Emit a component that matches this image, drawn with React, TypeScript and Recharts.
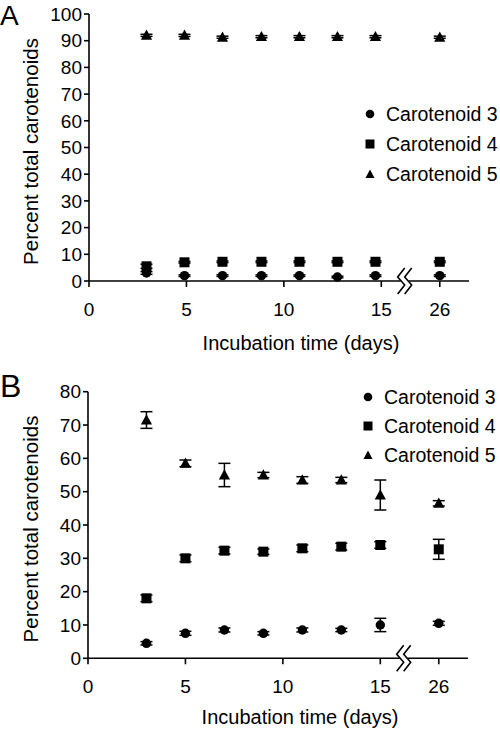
import React from "react";
import {
  ErrorBar,
  Label,
  Legend,
  ReferenceDot,
  Scatter,
  ScatterChart,
  XAxis,
  YAxis,
} from "recharts";

// sampling days; day 26 sits just past the axis break
const days = [3, 5, 7, 9, 11, 13, 15, 26];
const xPosA = [2.95, 4.9, 6.85, 8.85, 10.8, 12.75, 14.7, 18];
const xPosB = [3, 5, 7, 9, 11, 13, 15, 18];
const xTicks = [0, 5, 10, 15, 18];
const xTickLabels = ["0", "5", "10", "15", "26"];
const yTicksA = [0, 10, 20, 30, 40, 50, 60, 70, 80, 90, 100];
const yTicksB = [0, 10, 20, 30, 40, 50, 60, 70, 80];

// panel A
const c3A = [3, 2, 2, 2, 2, 1.5, 2, 2];
const c4A = [5.5, 7, 7.2, 7.2, 7.2, 7.2, 7.2, 7.2];
const c5A = [92, 92, 91.3, 91.5, 91.5, 91.5, 91.5, 91.3];
const c3ErrA = [0.5, 0.3, 0.3, 0.3, 0.3, 0.3, 0.3, 0.3];
const c4ErrA = [0.8, 0.3, 0.3, 0.3, 0.3, 0.3, 0.3, 0.3];
const c5ErrA = [0.4, 0.4, 0.4, 0.4, 0.4, 0.4, 0.4, 0.4];

// panel B
const c3B = [4.5, 7.5, 8.5, 7.5, 8.5, 8.5, 10, 10.5];
const c4B = [18, 30, 32.3, 32, 33, 33.5, 34, 32.7];
const c5B = [71.5, 58.5, 55, 55, 53.5, 53.5, 49, 46.5];
const c3ErrB = [0.5, 0.6, 0.6, 0.5, 0.6, 0.5, 2, 0.6];
const c4ErrB = [1, 1, 1, 0.8, 1, 1, 1, 3];
const c5ErrB = [2.5, 1, 3.5, 0.8, 1, 0.8, 4.5, 0.8];

const seriesNames = ["Carotenoid 3", "Carotenoid 4", "Carotenoid 5"];

const FONT = "'Liberation Sans', Arial, Helvetica, sans-serif";

const rows = (xs: number[], ys: number[], errs: number[]) =>
  days.map((d, i) => ({ day: d, x: xs[i], y: ys[i], err: errs[i] }));

const CircleDot = (p: any) => <circle cx={p.cx} cy={p.cy} r={4.7} fill="#000" />;
const SquareDot = (p: any) => (
  <rect x={p.cx - 5} y={p.cy - 5} width={10} height={10} fill="#000" />
);
const TriangleDot = (p: any) => (
  <polygon
    points={`${p.cx},${p.cy - 5.8} ${p.cx + 5.6},${p.cy + 4.4} ${p.cx - 5.6},${p.cy + 4.4}`}
    fill="#000"
  />
);

// the "//" break on the x axis
const AxisBreak = (p: any) => {
  const { cx, cy } = p;
  const zig = (dx: number) =>
    `M${cx + dx},${cy - 13} L${cx + dx - 7},${cy - 4} L${cx + dx},${cy + 4} L${cx + dx - 7},${cy + 13}`;
  return (
    <g>
      <rect x={cx - 4} y={cy - 2} width={8} height={4} fill="#fff" />
      <path d={zig(0)} stroke="#000" strokeWidth={1.6} fill="none" />
      <path d={zig(7)} stroke="#000" strokeWidth={1.6} fill="none" />
    </g>
  );
};

const legendSymbol = (type: string) => {
  if (type === "circle") return <circle cx={9} cy={9} r={4.3} fill="#000" />;
  if (type === "square") return <rect x={4.5} y={4.5} width={9} height={9} fill="#000" />;
  return <polygon points="9,4.5 13.5,13 4.5,13" fill="#000" />;
};

const makeLegend = (rowH: number) => (props: any) => (
  <div style={{ fontFamily: FONT, fontSize: 19.5, color: "#000" }}>
    {(props.payload || []).map((e: any) => (
      <div key={e.value} style={{ display: "flex", alignItems: "center", height: rowH }}>
        <svg width={18} height={18} style={{ marginRight: 7 }}>
          {legendSymbol(e.type)}
        </svg>
        <span>{e.value}</span>
      </div>
    ))}
  </div>
);

const yLabel = (dx: number, dy: number) => (props: any) => {
  const vb = props.viewBox;
  const x = vb.x + dx;
  const y = vb.y + vb.height / 2 + dy;
  return (
    <text
      x={x}
      y={y}
      transform={`rotate(-90 ${x} ${y})`}
      textAnchor="middle"
      dominantBaseline="central"
      fontSize={20.5}
      fontFamily={FONT}
      fill="#000"
    >
      Percent total carotenoids
    </text>
  );
};

const xLabel = (dy: number) => (props: any) => {
  const vb = props.viewBox;
  return (
    <text
      x={vb.x + vb.width / 2 + 22}
      y={vb.y + dy}
      textAnchor="middle"
      fontSize={20}
      fontFamily={FONT}
      fill="#000"
    >
      Incubation time (days)
    </text>
  );
};

const axisProps = {
  stroke: "#000",
  strokeWidth: 1.6,
  interval: 0 as const,
  tick: { fill: "#000", fontSize: 19, fontFamily: FONT },
};

function Panel(props: {
  height: number;
  top: number;
  right: number;
  yWidth: number;
  xHeight: number;
  yMax: number;
  yTicks: number[];
  xs: number[];
  c3: number[];
  c4: number[];
  c5: number[];
  e3: number[];
  e4: number[];
  e5: number[];
  legendTop: number;
  legendLeft: number;
  rowH: number;
  yLabelDy: number;
  xLabelDy: number;
}) {
  const p = props;
  return (
    <ScatterChart
      width={500}
      height={p.height}
      margin={{ top: p.top, right: p.right, bottom: 0, left: 0 }}
    >
      <XAxis
        type="number"
        dataKey="x"
        domain={[0, 19.5]}
        ticks={xTicks}
        tickFormatter={(v: number) => xTickLabels[xTicks.indexOf(v)] ?? String(v)}
        height={p.xHeight}
        tickSize={6}
        tickMargin={15.5}
        {...axisProps}
      >
        <Label content={xLabel(p.xLabelDy)} />
      </XAxis>
      <YAxis
        type="number"
        dataKey="y"
        domain={[0, p.yMax]}
        ticks={p.yTicks}
        width={p.yWidth}
        tickSize={5}
        tickMargin={2}
        {...axisProps}
      >
        <Label content={yLabel(30, p.yLabelDy)} />
      </YAxis>
      <Legend
        layout="vertical"
        align="center"
        verticalAlign="middle"
        wrapperStyle={{ left: p.legendLeft, top: p.legendTop, width: 140 }}
        content={makeLegend(p.rowH)}
      />
      <Scatter
        name={seriesNames[0]}
        data={rows(p.xs, p.c3, p.e3)}
        legendType="circle"
        shape={CircleDot}
        isAnimationActive={false}
      >
        <ErrorBar dataKey="err" direction="y" width={6} stroke="#000" strokeWidth={1.5} />
      </Scatter>
      <Scatter
        name={seriesNames[1]}
        data={rows(p.xs, p.c4, p.e4)}
        legendType="square"
        shape={SquareDot}
        isAnimationActive={false}
      >
        <ErrorBar dataKey="err" direction="y" width={6} stroke="#000" strokeWidth={1.5} />
      </Scatter>
      <Scatter
        name={seriesNames[2]}
        data={rows(p.xs, p.c5, p.e5)}
        legendType="triangle"
        shape={TriangleDot}
        isAnimationActive={false}
      >
        <ErrorBar dataKey="err" direction="y" width={6} stroke="#000" strokeWidth={1.5} />
      </Scatter>
      <ReferenceDot x={16.2} y={0} r={1} ifOverflow="visible" shape={AxisBreak} />
    </ScatterChart>
  );
}

export default function App() {
  return (
    <div
      style={{
        position: "absolute",
        left: 0,
        top: 0,
        width: 500,
        height: 731,
        background: "#fff",
      }}
    >
      <Panel
        height={365}
        top={14}
        right={31}
        yWidth={89}
        xHeight={84}
        yMax={100}
        yTicks={yTicksA}
        xs={xPosA}
        c3={c3A}
        c4={c4A}
        c5={c5A}
        e3={c3ErrA}
        e4={c4ErrA}
        e5={c5ErrA}
        legendLeft={361}
        legendTop={99}
        rowH={30}
        yLabelDy={4}
        xLabelDy={69}
      />
      <Panel
        height={366}
        top={26.7}
        right={32}
        yWidth={88}
        xHeight={72.7}
        yMax={80}
        yTicks={yTicksB}
        xs={xPosB}
        c3={c3B}
        c4={c4B}
        c5={c5B}
        e3={c3ErrB}
        e4={c4ErrB}
        e5={c5ErrB}
        legendLeft={359}
        legendTop={17.5}
        rowH={29}
        yLabelDy={4}
        xLabelDy={66}
      />
      <svg
        width={500}
        height={731}
        style={{ position: "absolute", left: 0, top: 0, pointerEvents: "none" }}
      >
        <text x={0} y={25} fontSize={28} fontFamily={FONT} fill="#000">
          A
        </text>
        <text x={0} y={397} fontSize={32} fontFamily={FONT} fill="#000">
          B
        </text>
      </svg>
    </div>
  );
}
